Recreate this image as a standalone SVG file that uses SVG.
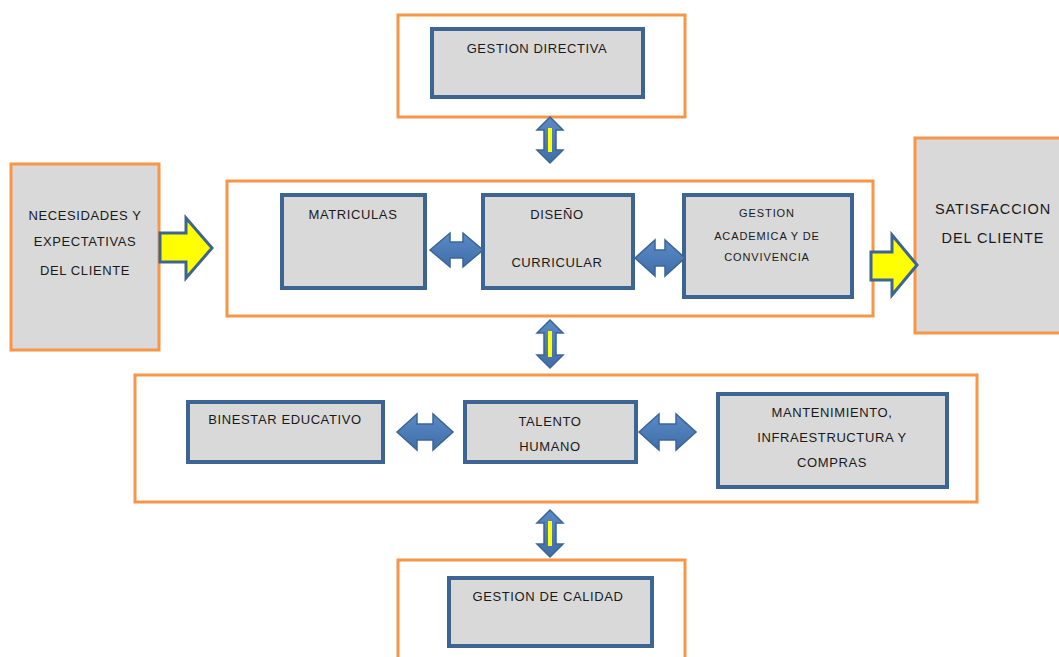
<svg xmlns="http://www.w3.org/2000/svg" width="1059" height="657" viewBox="0 0 1059 657">
  <style>
    .frame { fill: #FFFFFF; stroke: #F79646; stroke-width: 3; }
    .outer { fill: #D9D9D9; stroke: #F79646; stroke-width: 3; }
    .box { fill: #D9D9D9; stroke: #3D6594; stroke-width: 4; }
    .lbl { font-family: "Liberation Sans", Arial, sans-serif; font-size: 13px; fill: #1A1A1A; text-anchor: middle; letter-spacing: 0.6px; }
    .sm { font-size: 11px; letter-spacing: 0.9px; }
    .lg { font-size: 14.5px; letter-spacing: 0.9px; }
    .dbl { fill: url(#blueGrad); stroke: #3D6594; stroke-width: 1.5; stroke-linejoin: miter; }
    .flow { fill: #FFFF00; stroke: #3D6594; stroke-width: 3; stroke-linejoin: miter; }
    .stripe { fill: #FFFF00; stroke: none; }
  </style>
  <defs>
    <linearGradient id="blueGrad" x1="0" y1="0" x2="0" y2="1">
      <stop offset="0" stop-color="#5A8AC6"/>
      <stop offset="1" stop-color="#3F6EA8"/>
    </linearGradient>
  </defs>

  <rect width="1059" height="657" fill="#FFFFFF"/>

  <!-- top: directive management -->
  <g id="frame-directiva">
    <rect class="frame" x="398" y="15" width="287" height="102"/>
  </g>
  <g id="gestion-directiva">
    <rect class="box" x="432" y="29" width="211" height="68"/>
    <text class="lbl" x="537" y="53">GESTION DIRECTIVA</text>
  </g>

  <!-- customer input -->
  <g id="necesidades">
    <rect class="outer" x="11" y="164" width="148" height="186"/>
    <text class="lbl" x="85" y="220">NECESIDADES Y</text>
    <text class="lbl" x="85" y="246">EXPECTATIVAS</text>
    <text class="lbl" x="85" y="275">DEL CLIENTE</text>
  </g>

  <!-- core processes -->
  <g id="frame-misional">
    <rect class="frame" x="227" y="181" width="646" height="135"/>
  </g>
  <g id="matriculas">
    <rect class="box" x="282" y="195" width="143" height="93"/>
    <text class="lbl" x="353" y="219">MATRICULAS</text>
  </g>
  <g id="diseno-curricular">
    <rect class="box" x="483" y="195" width="150" height="93"/>
    <text class="lbl" x="557" y="219">DISEÑO</text>
    <text class="lbl" x="557" y="267">CURRICULAR</text>
  </g>
  <g id="gestion-academica">
    <rect class="box" x="684" y="195" width="168" height="102"/>
    <text class="lbl sm" x="767" y="217">GESTION</text>
    <text class="lbl sm" x="767" y="240">ACADEMICA Y DE</text>
    <text class="lbl sm" x="767" y="261">CONVIVENCIA</text>
  </g>

  <!-- customer output -->
  <g id="satisfaccion">
    <rect class="outer" x="915" y="138" width="150" height="195"/>
    <text class="lbl lg" x="993" y="214">SATISFACCION</text>
    <text class="lbl lg" x="993" y="243">DEL CLIENTE</text>
  </g>

  <!-- support processes -->
  <g id="frame-apoyo">
    <rect class="frame" x="135" y="375" width="842" height="127"/>
  </g>
  <g id="bienestar">
    <rect class="box" x="188" y="402" width="195" height="60"/>
    <text class="lbl" x="285" y="424">BINESTAR EDUCATIVO</text>
  </g>
  <g id="talento-humano">
    <rect class="box" x="465" y="402" width="171" height="60"/>
    <text class="lbl" x="550" y="426">TALENTO</text>
    <text class="lbl" x="550" y="451">HUMANO</text>
  </g>
  <g id="mantenimiento">
    <rect class="box" x="718" y="394" width="229" height="93"/>
    <text class="lbl" x="832" y="417">MANTENIMIENTO,</text>
    <text class="lbl" x="832" y="442">INFRAESTRUCTURA Y</text>
    <text class="lbl" x="832" y="467">COMPRAS</text>
  </g>

  <!-- quality management -->
  <g id="frame-calidad">
    <rect class="frame" x="398" y="560" width="287" height="110"/>
  </g>
  <g id="gestion-calidad">
    <rect class="box" x="449" y="578" width="203" height="68"/>
    <text class="lbl" x="548" y="601">GESTION DE CALIDAD</text>
  </g>

  <!-- connectors -->
  <g id="connectors">
    <!-- input / output flow arrows -->
    <polygon class="flow" points="160,233 186,233 186,218 212,248 186,278 186,262 160,262"/>
    <polygon class="flow" points="871,252 892,252 892,235 917,265 892,295 892,280 871,280"/>

    <!-- horizontal two-way arrows -->
    <polygon class="dbl" points="430,250 450,233 450,242 463,242 463,233 483,250 463,267 463,258 450,258 450,267"/>
    <polygon class="dbl" points="635,258 655,240 655,250 665,250 665,240 685,258 665,276 665,266 655,266 655,276"/>
    <polygon class="dbl" points="397,432 417,414 417,424 433,424 433,414 453,432 433,450 433,440 417,440 417,450"/>
    <polygon class="dbl" points="639,432 659,414 659,424 676,424 676,414 696,432 676,450 676,440 659,440 659,450"/>

    <!-- vertical two-way arrows -->
    <polygon class="dbl" points="550,117 563,130 556,130 556,150 563,150 550,163 537,150 544,150 544,130 537,130"/>
    <rect class="stripe" x="548" y="128" width="4" height="24"/>
    <polygon class="dbl" points="550,320 563,333 556,333 556,355 563,355 550,368 537,355 544,355 544,333 537,333"/>
    <rect class="stripe" x="548" y="331" width="4" height="26"/>
    <polygon class="dbl" points="550,510 563,523 556,523 556,544 563,544 550,557 537,544 544,544 544,523 537,523"/>
    <rect class="stripe" x="548" y="521" width="4" height="25"/>
  </g>
</svg>
